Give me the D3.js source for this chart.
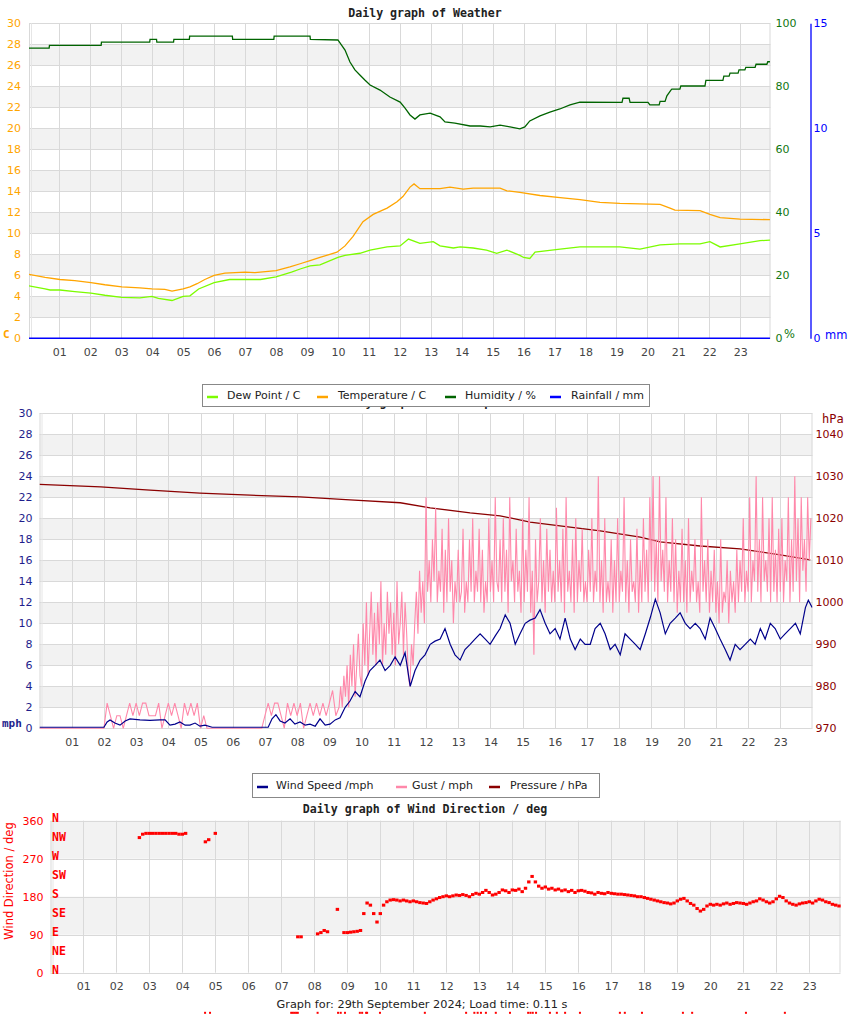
<!DOCTYPE html>
<html><head><meta charset="utf-8">
<script src="https://cdnjs.cloudflare.com/ajax/libs/d3/7.8.5/d3.min.js"></script>
<style>body{margin:0;background:#fff}svg{display:block}</style>
</head><body>
<script>
// ---------------- DATA ----------------
const hourLabels = ["01","02","03","04","05","06","07","08","09","10","11","12","13","14","15","16","17","18","19","20","21","22","23"];
const tempTicks = [0,2,4,6,8,10,12,14,16,18,20,22,24,26,28,30];
const humTicks = [0,20,40,60,80,100];
const rainTicks = [0,5,10,15];
const windTicks = [0,2,4,6,8,10,12,14,16,18,20,22,24,26,28,30];
const pressTicks = [970,980,990,1000,1010,1020,1030,1040];
const dirTicks = [0,90,180,270,360];
const compass = ["N","NE","E","SE","S","SW","W","NW","N"];

// [hour, value]
const temperature = [[0,6.1],[0.54,5.8],[1.02,5.6],[1.5,5.5],[2.02,5.3],[2.47,5.1],[3.02,4.9],[3.6,4.8],[3.99,4.7],[4.41,4.65],[4.64,4.5],[5.0,4.7],[5.22,4.9],[5.45,5.2],[5.7,5.6],[6.0,6.0],[6.35,6.2],[7.0,6.3],[7.32,6.25],[8.0,6.45],[8.45,6.8],[8.78,7.1],[9.1,7.4],[9.42,7.7],[9.97,8.2],[10.23,8.8],[10.49,9.7],[10.81,11.1],[11.14,11.8],[11.59,12.4],[11.91,13.0],[12.1,13.5],[12.33,14.4],[12.46,14.7],[12.65,14.25],[13.3,14.25],[13.62,14.4],[14.05,14.2],[14.37,14.3],[15.24,14.3],[15.46,14.05],[15.88,13.9],[16.53,13.6],[17.18,13.4],[17.82,13.2],[18.47,12.95],[19.11,12.85],[19.76,12.8],[20.41,12.75],[20.73,12.4],[20.89,12.2],[21.7,12.15],[22.02,11.8],[22.35,11.5],[22.99,11.35],[23.96,11.3]];
const dewPoint = [[0,5.0],[0.54,4.7],[0.7,4.6],[1.02,4.6],[1.5,4.45],[2.02,4.3],[2.47,4.1],[3.02,3.9],[3.6,3.85],[3.99,4.0],[4.2,3.8],[4.64,3.6],[5.0,4.0],[5.22,4.05],[5.5,4.7],[6.0,5.3],[6.5,5.6],[7.5,5.6],[8.0,5.85],[8.5,6.3],[8.78,6.6],[9.1,6.9],[9.42,7.0],[10.0,7.7],[10.23,7.9],[10.71,8.1],[11.04,8.4],[11.59,8.7],[12.01,8.8],[12.28,9.45],[12.65,9.05],[13.08,9.2],[13.3,8.8],[13.73,8.6],[13.95,8.7],[14.37,8.6],[14.8,8.4],[15.13,8.1],[15.46,8.4],[15.88,7.9],[16.0,7.7],[16.2,7.6],[16.37,8.2],[17.18,8.5],[17.82,8.7],[18.47,8.7],[19.11,8.7],[19.76,8.5],[20.41,8.9],[21.05,9.0],[21.7,9.0],[22.02,9.2],[22.35,8.7],[22.99,9.0],[23.64,9.3],[23.96,9.35]];
const humidity = [[0,92.1],[0.67,92.1],[0.68,93.0],[2.35,93.0],[2.36,94.0],[3.92,94.0],[3.93,94.9],[4.14,94.9],[4.15,94.0],[4.69,94.0],[4.7,94.9],[5.2,94.9],[5.21,95.9],[6.59,95.9],[6.6,94.9],[7.93,94.9],[7.94,95.9],[9.1,95.9],[9.11,94.9],[10.0,94.7],[10.23,91.5],[10.39,87.7],[10.55,85.2],[10.71,83.6],[10.87,82.0],[11.04,80.4],[11.36,78.8],[11.68,76.6],[12.01,75.0],[12.17,73.1],[12.33,70.9],[12.49,69.6],[12.65,70.9],[12.98,71.5],[13.3,70.3],[13.46,68.7],[13.78,68.3],[14.27,67.4],[14.6,67.4],[14.92,67.1],[15.24,67.7],[15.56,67.1],[15.88,66.5],[16.04,67.1],[16.2,69.0],[16.53,70.6],[16.85,71.8],[17.17,72.8],[17.5,74.1],[17.82,75.0],[19.18,74.9],[19.21,76.2],[19.41,76.2],[19.44,74.9],[20.02,74.9],[20.08,74.1],[20.38,74.1],[20.41,75.2],[20.57,75.2],[20.63,77.0],[20.76,78.8],[20.79,79.1],[21.05,79.1],[21.08,80.1],[21.86,80.1],[21.89,81.9],[22.44,81.9],[22.47,83.2],[22.64,83.2],[22.67,84.2],[22.93,84.2],[22.96,85.2],[23.15,85.2],[23.18,86.0],[23.48,86.0],[23.51,87.0],[23.86,87.0],[23.89,87.8],[23.96,87.8]];
const rainfall = [[0,0],[23.96,0]];

const pressure = [[0,1028.1],[1.9,1027.5],[3.43,1026.7],[4.98,1026.0],[6.54,1025.5],[8.09,1025.1],[9.64,1024.4],[11.2,1023.7],[12.13,1022.5],[13.37,1021.3],[14.3,1020.6],[15.23,1019.1],[16.16,1018.2],[17.41,1017.0],[18.65,1015.5],[19.27,1014.4],[20.51,1013.4],[21.75,1012.7],[23.0,1011.3],[23.93,1010.1]];
const windSpeed = [[0,0.1],[2.0,0.1],[2.1,0.6],[2.19,0.8],[2.34,0.5],[2.5,0.3],[2.66,0.7],[2.81,0.9],[3.12,0.8],[3.43,0.75],[3.74,0.8],[3.9,0.8],[4.05,0.3],[4.21,0.4],[4.36,0.6],[4.52,0.3],[4.67,0.3],[4.83,0.5],[4.98,0.2],[5.14,0.3],[5.36,0.1],[7.1,0.1],[7.22,0.9],[7.34,1.3],[7.47,0.7],[7.62,0.5],[7.78,0.9],[7.93,0.4],[8.09,0.6],[8.25,0.3],[8.4,0.4],[8.56,0.2],[8.71,0.9],[8.87,0.3],[9.02,0.4],[9.18,0.8],[9.33,1.0],[9.49,2.0],[9.64,2.6],[9.8,3.5],[9.95,3.0],[10.11,4.5],[10.26,5.5],[10.42,6.0],[10.57,6.5],[10.73,5.5],[10.89,6.0],[11.04,6.8],[11.2,6.0],[11.35,7.2],[11.51,4.0],[11.66,5.5],[11.82,6.5],[11.97,7.0],[12.13,8.0],[12.28,8.3],[12.44,8.5],[12.59,9.5],[12.75,8.0],[12.9,7.0],[13.06,6.5],[13.21,7.5],[13.37,8.0],[13.52,8.5],[13.68,9.0],[13.84,8.5],[13.99,8.0],[14.15,8.8],[14.3,9.5],[14.46,10.8],[14.61,10.0],[14.77,8.0],[14.92,9.0],[15.08,10.0],[15.23,10.3],[15.39,10.5],[15.54,11.3],[15.7,10.0],[15.85,9.0],[16.01,9.5],[16.16,8.5],[16.32,10.5],[16.48,8.5],[16.63,7.5],[16.79,8.5],[16.94,8.0],[17.1,8.0],[17.25,9.5],[17.41,10.0],[17.56,9.0],[17.72,7.5],[17.87,8.0],[18.03,7.0],[18.18,9.0],[18.34,8.5],[18.5,8.0],[18.65,7.5],[18.81,9.0],[18.96,10.5],[19.12,12.3],[19.27,11.0],[19.43,9.0],[19.58,10.0],[19.74,10.5],[19.89,11.0],[20.05,10.0],[20.2,9.5],[20.36,10.0],[20.51,9.5],[20.67,8.5],[20.82,10.5],[20.98,9.5],[21.13,8.5],[21.29,7.5],[21.44,6.5],[21.6,8.0],[21.75,7.5],[21.91,8.0],[22.07,8.5],[22.22,8.0],[22.38,9.5],[22.53,8.5],[22.69,10.0],[22.84,9.5],[23.0,8.5],[23.15,9.0],[23.31,9.5],[23.47,10.0],[23.62,9.0],[23.78,11.5],[23.87,12.2],[23.99,11.5]];
// gust readings: every 0.1 h from 00:00 up to 09:12, then every 0.05 h from 09:18
const gustEarlyStep = 0.1;
const gustEarly = [0,0,0,0,0,0,0,0,0,0,0,0,0,0,0,0,0,0,0,0,
 0,2.4,1.2,0,1.2,1.2,0,1.2,2.4,1.2,2.4,1.2,2.4,2.4,1.2,1.2,1.2,2.4,0,1.2,2.4,1.2,2.4,1.2,0,2.4,1.2,2.4,1.2,2.4,0,1.2,0,
 0,0,0,0,0,0,0,0,0,0,0,0,0,0,0,0,0,
 1.2,2.4,1.2,2.4,2.4,1.2,0,2.4,1.2,2.4,1.2,2.4,0,1.2,2.4,1.2,2.4,1.2,2.4,1.2,2.4,3.6,1.2];
const gustLateStart = 9.3, gustLateStep = 0.05;
const gustLate = [2,4,2,5,3,6,2,7,4,8,3,6,9,5,
 4,10,6,12,5,9,13,7,11,6,12,8,14,6,10,7,13,9,12,7,
 11,6,14,8,10,13,7,12,9,5,4,8,6,10,13,9,15,11,14,10,
 22,13,16,12,18,14,21,12,15,13,19,11,17,12,20,13,16,10,14,12,
 17,12,13,19,11,14,12,18,13,20,12,15,13,19,12,17,11,14,12,20,
 13,16,12,22,14,13,18,12,20,13,17,11,22,14,16,12,19,13,15,11,
 20,12,17,13,22,11,15,7,18,12,14,20,12,16,11,19,13,17,12,15,
 12,21,13,16,12,19,11,22,13,15,12,18,11,20,12,16,13,19,12,14,
 12,17,13,20,12,15,13,24,12,16,11,20,12,14,12,18,11,16,12,20,
 12,15,13,22,12,16,11,18,13,14,12,19,11,16,12,20,13,17,12,22,
 14,24,13,18,12,24,14,17,13,22,12,16,13,20,12,18,11,15,12,19,
 12,16,11,20,12,15,13,18,12,14,11,22,13,16,12,18,11,15,12,17,
 11,14,10,18,11,13,12,16,10,15,12,14,11,17,12,16,13,20,12,15,
 13,22,12,16,14,24,13,18,12,22,14,16,13,20,12,22,13,17,12,19,
 13,20,12,16,14,22,12,18,13,24,14,20,12,22,15,18,13,22,16,20];

const windDir = [[2.7,320],[2.8,328],[2.9,330],[3.0,330],[3.1,330],[3.2,330],[3.3,330],[3.4,330],[3.5,330],[3.6,330],[3.7,330],[3.8,330],[3.9,328],[4.0,328],[4.1,330],[4.7,310],[4.8,315],[5.0,330],
 [7.5,85],[7.6,85],[8.1,92],[8.2,95],[8.3,100],[8.4,97],[8.7,150],[8.9,95],[9.0,95],[9.1,96],[9.2,97],[9.3,98],[9.4,100],[9.5,140],[9.6,165],[9.7,160],[9.8,140],[9.9,120],[10.0,140],[10.1,160],
 [10.2,168],[10.3,172],[10.4,173],[10.5,172],[10.6,170],[10.7,172],[10.8,170],[10.9,168],[11.0,170],[11.1,168],[11.2,166],[11.3,165],[11.4,164],[11.5,168],[11.6,172],[11.7,175],[11.8,178],[11.9,180],[12.0,182],[12.1,180],[12.2,182],[12.3,184],[12.4,183],[12.5,185],[12.6,183],[12.7,180],[12.8,185],[12.9,188],[13.0,186],[13.1,190],[13.2,195],[13.3,190],[13.4,184],[13.5,186],[13.6,190],[13.7,196],[13.8,194],[13.9,190],[14.0,196],[14.1,195],[14.2,198],[14.3,192],[14.4,200],[14.5,215],[14.6,228],[14.7,215],[14.8,205],[14.9,200],[15.0,203],[15.1,198],[15.2,200],[15.3,196],[15.4,198],[15.5,194],[15.6,196],[15.7,192],[15.8,195],[15.9,190],[16.0,194],[16.1,195],[16.2,193],[16.3,190],[16.4,189],[16.5,186],[16.6,190],[16.7,188],[16.8,187],[16.9,190],[17.0,188],[17.1,187],[17.2,186],
 [17.3,186],[17.4,185],[17.5,184],[17.6,183],[17.7,182],[17.8,180],[17.9,180],[18.0,178],[18.1,176],[18.2,174],[18.3,172],[18.4,170],[18.5,168],[18.6,166],[18.7,165],[18.8,163],[18.9,165],[19.0,170],[19.1,174],[19.2,176],[19.3,170],[19.4,164],[19.5,160],[19.6,152],[19.7,146],[19.8,150],[19.9,158],[20.0,162],[20.1,160],[20.2,162],[20.3,160],[20.4,163],[20.5,165],[20.6,162],[20.7,164],[20.8,166],[20.9,165],[21.0,164],[21.1,162],[21.2,165],[21.3,168],[21.4,170],[21.5,175],[21.6,172],[21.7,168],[21.8,165],[21.9,168],[22.0,175],[22.1,181],[22.2,178],[22.3,170],[22.4,165],[22.5,162],[22.6,160],[22.7,163],[22.8,165],[22.9,166],[23.0,168],[23.1,165],[23.2,170],[23.3,174],[23.4,172],[23.5,168],[23.6,166],[23.7,162],[23.8,160],[23.9,158]];
// readings plotted below the direction scale (no direction)
const dirNoValue = -95;
const dirNoValueTimes = [4.69,4.84,7.3,7.35,7.4,7.45,7.5,8.1,8.72,8.8,8.93,9.38,9.45,9.57,9.6,9.99,11.35,12.6,12.85,12.95,13.05,13.2,13.5,13.93,14.48,14.55,14.62,14.72,15.14,15.35,15.6,16.05,17.26,17.41,17.93,19.17,19.45,21.08,22.26];

// ---------------- DRAW ----------------
const W = 850, H = 1017;
const FONT = "DejaVu Sans, Verdana, sans-serif";
const MONO = "DejaVu Sans Mono, monospace";
const GRID = "#d9d9d9", BAND = "#f2f2f2", TICKC = "#444";
const svg = d3.select("body").append("svg").attr("width", W).attr("height", H)
  .style("font-family", FONT);
const hours = d3.range(1, 24);

function frame(x, y, x0, x1, yTicks, bandTest, clipId) {
  const [yb, yt] = y.range();
  const g = svg.append("g");
  yTicks.forEach((v, i) => {
    if (i < yTicks.length - 1 && bandTest(v, i))
      g.append("rect").attr("x", x0).attr("width", x1 - x0)
        .attr("y", y(yTicks[i + 1])).attr("height", y(v) - y(yTicks[i + 1])).attr("fill", BAND);
  });
  yTicks.forEach(v => g.append("line").attr("x1", x0).attr("x2", x1)
    .attr("y1", Math.round(y(v)) + 0.5).attr("y2", Math.round(y(v)) + 0.5).attr("stroke", GRID));
  hours.forEach(h => g.append("line").attr("x1", Math.round(x(h)) + 0.5).attr("x2", Math.round(x(h)) + 0.5)
    .attr("y1", yt).attr("y2", yb).attr("stroke", GRID));
  g.append("line").attr("x1", x0 + 0.5).attr("x2", x0 + 0.5).attr("y1", yt).attr("y2", yb).attr("stroke", GRID);
  g.append("line").attr("x1", x0 + 2.5).attr("x2", x0 + 2.5).attr("y1", yt).attr("y2", yb).attr("stroke", "#e6e6e6");
  g.append("line").attr("x1", x1 - 0.5).attr("x2", x1 - 0.5).attr("y1", yt).attr("y2", yb).attr("stroke", GRID);
  svg.append("clipPath").attr("id", clipId).append("rect")
    .attr("x", x0).attr("y", yt - 1).attr("width", x1 - x0).attr("height", yb - yt + 2);
}
function xAxis(x, yPos, pad) {
  const ax = svg.append("g").attr("transform", `translate(0,${yPos})`)
    .call(d3.axisBottom(x).tickValues(hours).tickFormat((d, i) => hourLabels[i]).tickSize(0).tickPadding(pad));
  ax.select(".domain").remove();
  ax.selectAll("text").attr("fill", TICKC).style("font-size", "11px").style("font-family", FONT);
}
function yAxis(scale, side, xPos, ticks, color, pad, keepDomain) {
  const gen = (side === "left" ? d3.axisLeft(scale) : d3.axisRight(scale)).tickValues(ticks)
    .tickFormat(d3.format("d")).tickSize(0).tickPadding(pad);
  const ax = svg.append("g").attr("transform", `translate(${xPos},0)`).call(gen);
  if (keepDomain) ax.select(".domain").attr("stroke", color).attr("stroke-width", 1.3);
  else ax.select(".domain").remove();
  ax.selectAll("text").attr("fill", color).style("font-size", "11px").style("font-family", FONT);
  return ax;
}
function title(txt, cx, baseline) {
  svg.append("text").attr("x", cx).attr("y", baseline).attr("text-anchor", "middle")
    .style("font-family", MONO).style("font-weight", "bold").style("font-size", "11.6px").attr("fill", "#222").text(txt);
}
function legend(x0, x1, y0, y1, items) {
  const g = svg.append("g");
  g.append("rect").attr("x", x0 + 0.5).attr("y", y0 + 0.5).attr("width", x1 - x0).attr("height", y1 - y0)
    .attr("fill", "#fff").attr("stroke", "#888");
  items.forEach(it => {
    g.append("line").attr("x1", it.lx).attr("x2", it.lx + 11).attr("y1", (y0 + y1) / 2 + 2).attr("y2", (y0 + y1) / 2 + 2)
      .attr("stroke", it.color).attr("stroke-width", 2.5);
    g.append("text").attr("x", it.tx).attr("y", (y0 + y1) / 2).attr("dominant-baseline", "central")
      .style("font-size", "11px").attr("fill", "#222").text(it.label);
  });
}

// ===== Panel 1: weather =====
const x1 = d3.scaleLinear().domain([0, 24]).range([28.4, 771.2]);
const yT = d3.scaleLinear().domain([0, 30]).range([338.3, 23.3]);
const yHum = d3.scaleLinear().domain([0, 100]).range([338.3, 23.3]);
const yRain = d3.scaleLinear().domain([0, 15]).range([338.3, 23.3]);
title("Daily graph of Weather", 425, 17);
frame(x1, yT, 29, 770.5, tempTicks, (v) => (v / 2) % 2 === 1, "c1");
yAxis(yT, "left", 29, tempTicks, "#ffa500", 8, false);
yAxis(yHum, "right", 770.5, humTicks, "#117711", 5, false);
yAxis(yRain, "right", 810.5, rainTicks, "#0000ff", 3, true);
xAxis(x1, 338, 10);
svg.append("text").attr("x", 3).attr("y", 334).attr("dominant-baseline", "central").style("font-family", MONO)
  .style("font-weight", "bold").style("font-size", "11px").attr("fill", "#ffa500").text("C");
svg.append("text").attr("x", 784).attr("y", 334).attr("dominant-baseline", "central")
  .style("font-size", "11.5px").attr("fill", "#117711").text("%");
svg.append("text").attr("x", 825).attr("y", 335).attr("dominant-baseline", "central")
  .style("font-size", "11.5px").attr("fill", "#0000ff").text("mm");
const p1 = svg.append("g").attr("clip-path", "url(#c1)");
const line1 = (ys) => d3.line().x(d => x1(d[0])).y(d => ys(d[1]));
p1.append("path").attr("d", line1(yT)(dewPoint)).attr("fill", "none").attr("stroke", "#7cfc00").attr("stroke-width", 1.3);
p1.append("path").attr("d", line1(yT)(temperature)).attr("fill", "none").attr("stroke", "#ffa500").attr("stroke-width", 1.3);
p1.append("path").attr("d", line1(yHum)(humidity)).attr("fill", "none").attr("stroke", "#006400").attr("stroke-width", 1.3);
p1.append("path").attr("d", line1(yRain)(rainfall)).attr("fill", "none").attr("stroke", "#0000ff").attr("stroke-width", 1.6);

// ===== Panel 2: wind / pressure =====
const x2 = d3.scaleLinear().domain([0, 24]).range([39.5, 812.5]);
const yW = d3.scaleLinear().domain([0, 30]).range([728.3, 413.3]);
const yP = d3.scaleLinear().domain([970, 1045]).range([728.3, 413.3]);
title("Daily graph of Wind Speed", 425, 405.5);
frame(x2, yW, 39.5, 812.5, windTicks, (v) => (v / 2) % 2 === 1, "c2");
yAxis(yW, "left", 39.5, windTicks, "#1e1e8c", 7, false);
yAxis(yP, "right", 812.5, pressTicks, "#8b0000", 3, false);
xAxis(x2, 728, 10);
svg.append("text").attr("x", 2).attr("y", 723).attr("dominant-baseline", "central").style("font-family", MONO)
  .style("font-weight", "bold").style("font-size", "11px").attr("fill", "#1e1e8c").text("mph");
svg.append("text").attr("x", 822).attr("y", 419).attr("dominant-baseline", "central").style("font-family", MONO)
  .style("font-size", "12px").attr("fill", "#8b0000").text("hPa");
const p2 = svg.append("g").attr("clip-path", "url(#c2)");
p2.append("path").attr("d", d3.line().x(d => x2(d[0])).y(d => yP(d[1]))(pressure))
  .attr("fill", "none").attr("stroke", "#8b0000").attr("stroke-width", 1.3);
const gustPts = gustEarly.map((v, i) => [i * gustEarlyStep, v])
  .concat(gustLate.map((v, i) => [gustLateStart + i * gustLateStep, v]));
p2.append("path").attr("d", d3.line().x(d => x2(d[0])).y(d => yW(d[1]))(gustPts))
  .attr("fill", "none").attr("stroke", "#ff88aa").attr("stroke-width", 1.1);
p2.append("path").attr("d", d3.line().x(d => x2(d[0])).y(d => yW(d[1]))(windSpeed))
  .attr("fill", "none").attr("stroke", "#00008b").attr("stroke-width", 1.2);

legend(202, 649, 384, 406, [
  { lx: 207, tx: 227, color: "#7cfc00", label: "Dew Point / C" },
  { lx: 317, tx: 338, color: "#ffa500", label: "Temperature / C" },
  { lx: 445, tx: 465, color: "#006400", label: "Humidity / %" },
  { lx: 550, tx: 571, color: "#0000ff", label: "Rainfall / mm" }]);
legend(252, 599, 773, 797, [
  { lx: 257, tx: 276, color: "#00008b", label: "Wind Speed /mph" },
  { lx: 396, tx: 412, color: "#ff88aa", label: "Gust / mph" },
  { lx: 489, tx: 510, color: "#8b0000", label: "Pressure / hPa" }]);

// ===== Panel 3: wind direction =====
const x3 = d3.scaleLinear().domain([0, 24]).range([50.3, 842.3]);
const yD = d3.scaleLinear().domain([0, 360]).range([972.7, 820.7]);
title("Daily graph of Wind Direction / deg", 425, 813);
frame(x3, yD, 50.5, 840.5, dirTicks, (v, i) => i % 2 === 1, "c3");
yAxis(yD, "left", 50.5, dirTicks, "#ff0000", 7, false);
xAxis(x3, 972, 10);
compass.forEach((c, i) => {
  svg.append("text").attr("x", 52).attr("y", yD(i * 45) - 2.5).attr("dominant-baseline", "central")
    .style("font-family", MONO).style("font-weight", "bold").style("font-size", "11.5px").attr("fill", "#ff0000").text(c);
});
svg.append("text").attr("transform", `translate(9,881) rotate(-90)`).attr("text-anchor", "middle")
  .attr("dominant-baseline", "central").style("font-size", "11.5px").attr("fill", "#ff0000").text("Wind Direction / deg");
svg.append("g").selectAll("rect").data(windDir).join("rect")
  .attr("x", d => x3(d[0]) - 1.7).attr("y", d => yD(d[1]) - 1.5).attr("width", 3.4).attr("height", 3).attr("fill", "#ff0000");
svg.append("g").selectAll("rect").data(dirNoValueTimes).join("rect")
  .attr("x", d => x3(d) - 1).attr("y", yD(dirNoValue) - 1).attr("width", 2).attr("height", 2).attr("fill", "#ff0000");

svg.append("text").attr("x", 422).attr("y", 1004).attr("text-anchor", "middle").attr("dominant-baseline", "central")
  .style("font-size", "11.3px").attr("fill", "#222").text("Graph for: 29th September 2024; Load time: 0.11 s");
</script>
</body></html>
